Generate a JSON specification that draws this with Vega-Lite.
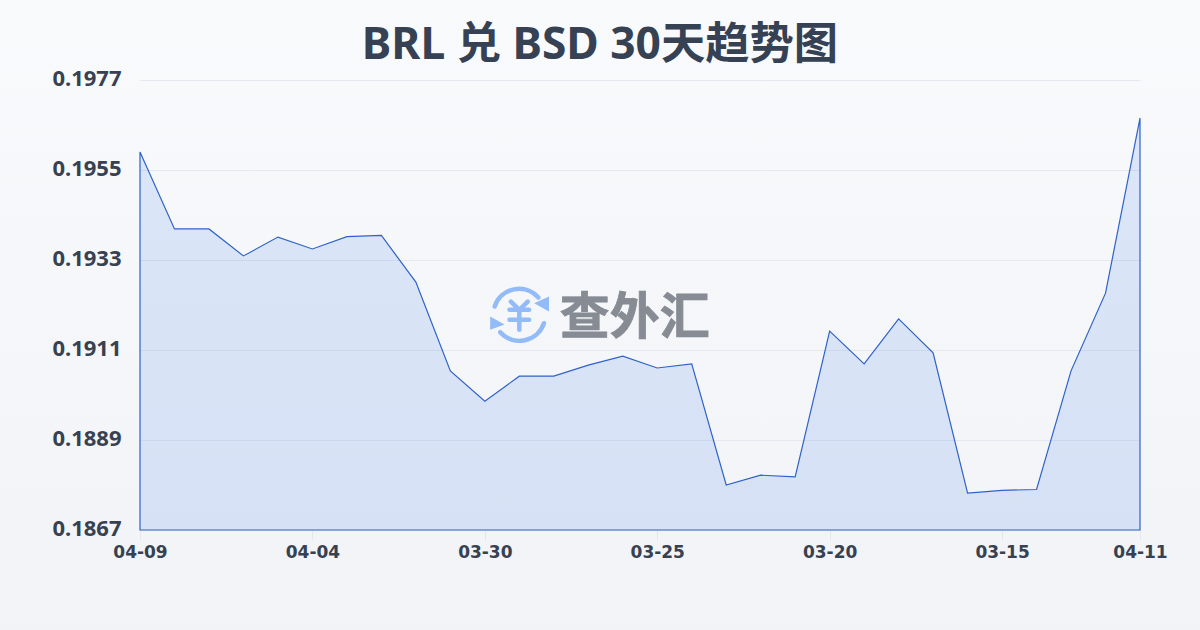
{
"$schema":"https://vega.github.io/schema/vega-lite/v6.json",
"width":1200,"height":630,
"autosize":{"type":"none"},
"padding":0,
"view":{"stroke":null,"fill":{"gradient":"linear","x1":0,"y1":0,"x2":0,"y2":1,"stops":[{"offset":0,"color":"#f8fafc"},{"offset":1,"color":"#f1f3f6"}]}},
"title":{"text":"BRL 兑 BSD 30天趋势图","anchor":"middle","offset":-68,"fontSize":44.3,"fontWeight":"bold","font":"Noto Sans, Noto Sans CJK SC","color":"#364153"},
"datasets":{
"rates":[
{"i":0,"date":"04-09","rate":0.19594},{"i":1,"date":"04-08","rate":0.19406},{"i":2,"date":"04-07","rate":0.19406},{"i":3,"date":"04-06","rate":0.1934},{"i":4,"date":"04-05","rate":0.19386},{"i":5,"date":"04-04","rate":0.19357},{"i":6,"date":"04-03","rate":0.19387},{"i":7,"date":"04-02","rate":0.1939},{"i":8,"date":"04-01","rate":0.19276},{"i":9,"date":"03-31","rate":0.19059},{"i":10,"date":"03-30","rate":0.18985},{"i":11,"date":"03-29","rate":0.19046},{"i":12,"date":"03-28","rate":0.19046},{"i":13,"date":"03-27","rate":0.19073},{"i":14,"date":"03-26","rate":0.19095},{"i":15,"date":"03-25","rate":0.19066},{"i":16,"date":"03-24","rate":0.19076},{"i":17,"date":"03-23","rate":0.1878},{"i":18,"date":"03-22","rate":0.18804},{"i":19,"date":"03-21","rate":0.188},{"i":20,"date":"03-20","rate":0.19156},{"i":21,"date":"03-19","rate":0.19076},{"i":22,"date":"03-18","rate":0.19186},{"i":23,"date":"03-17","rate":0.19103},{"i":24,"date":"03-16","rate":0.1876},{"i":25,"date":"03-15","rate":0.18767},{"i":26,"date":"03-14","rate":0.18769},{"i":27,"date":"03-13","rate":0.19059},{"i":28,"date":"03-12","rate":0.19249},{"i":29,"date":"04-11","rate":0.19677}],
"logo":[{"i":11,"rate":0.19196}],
"mark":[{"i":12,"rate":0.19196,"name":"查外汇"}]
},
"encoding":{
"x":{"field":"i","type":"quantitative","title":null,
"scale":{"domain":[0,29],"nice":false,"zero":false,"range":[140,1140]},
"axis":{"values":[0,5,10,15,20,25,29],"labelExpr":"datum.value==0?'04-09':datum.value==5?'04-04':datum.value==10?'03-30':datum.value==15?'03-25':datum.value==20?'03-20':datum.value==25?'03-15':'04-11'","offset":-100,"labelAngle":0,"domain":false,"grid":false,"ticks":true,"tickColor":"#e5e7eb","tickSize":10,"labelPadding":4,"labelFont":"DejaVu Sans","labelFontSize":17,"labelFontWeight":"bold","labelColor":"#374151","labelOverlap":false,"labelSeparation":0,"labelFlush":false,"labelBound":false}},
"y":{"field":"rate","type":"quantitative","title":null,
"scale":{"domain":[0.1867,0.1977],"nice":false,"zero":false,"range":[530,80]},
"axis":{"values":[0.1867,0.1889,0.1911,0.1933,0.1955,0.1977],"offset":-140,"format":".4f","domain":false,"ticks":false,"grid":true,"gridColor":"#e5e8ee","gridWidth":1,"labelPadding":19,"labelFont":"Noto Sans","labelFontSize":22,"labelFontWeight":"bold","labelColor":"#374151","labelOffset":-2,"labelOverlap":false,"labelBound":false,"labelFlush":false}}
},
"layer":[
{"data":{"name":"rates"},"mark":{"type":"area","fill":"#2f6fe8","fillOpacity":0.14,"stroke":"#2f62c9","strokeWidth":1.2,"strokeOpacity":1},"encoding":{"y2":{"datum":0.1867}}},
{"data":{"name":"logo"},"mark":{"type":"point","filled":false,"size":3136,"opacity":1,"stroke":"#93bbf8","strokeWidth":4.5,"strokeCap":"round","shape":"M-0.88,-0.3 A0.92,0.92 0 0 1 0.68,-0.62 M0.88,0.3 A0.92,0.92 0 0 1 -0.68,0.62 M-0.3,-0.47 L0,-0.18 L0.3,-0.47 M-0.35,-0.18 L0.35,-0.18 M-0.35,0.18 L0.35,0.18 M0,-0.18 L0,0.53"}},
{"data":{"name":"logo"},"mark":{"type":"point","filled":true,"size":3136,"opacity":1,"fill":"#93bbf8","shape":"M1.06,-0.65 L1.06,-0.12 L0.53,-0.41 Z M-1.04,0.06 L-1.04,0.53 L-0.53,0.35 Z"}},
{"data":{"name":"mark"},"mark":{"type":"text","align":"left","baseline":"middle","dx":6,"dy":4,"font":"Noto Sans CJK SC","fontSize":50,"fontWeight":"bold","color":"#868b94","stroke":"#868b94","strokeWidth":0.8},"encoding":{"text":{"field":"name"}}}
]
}
